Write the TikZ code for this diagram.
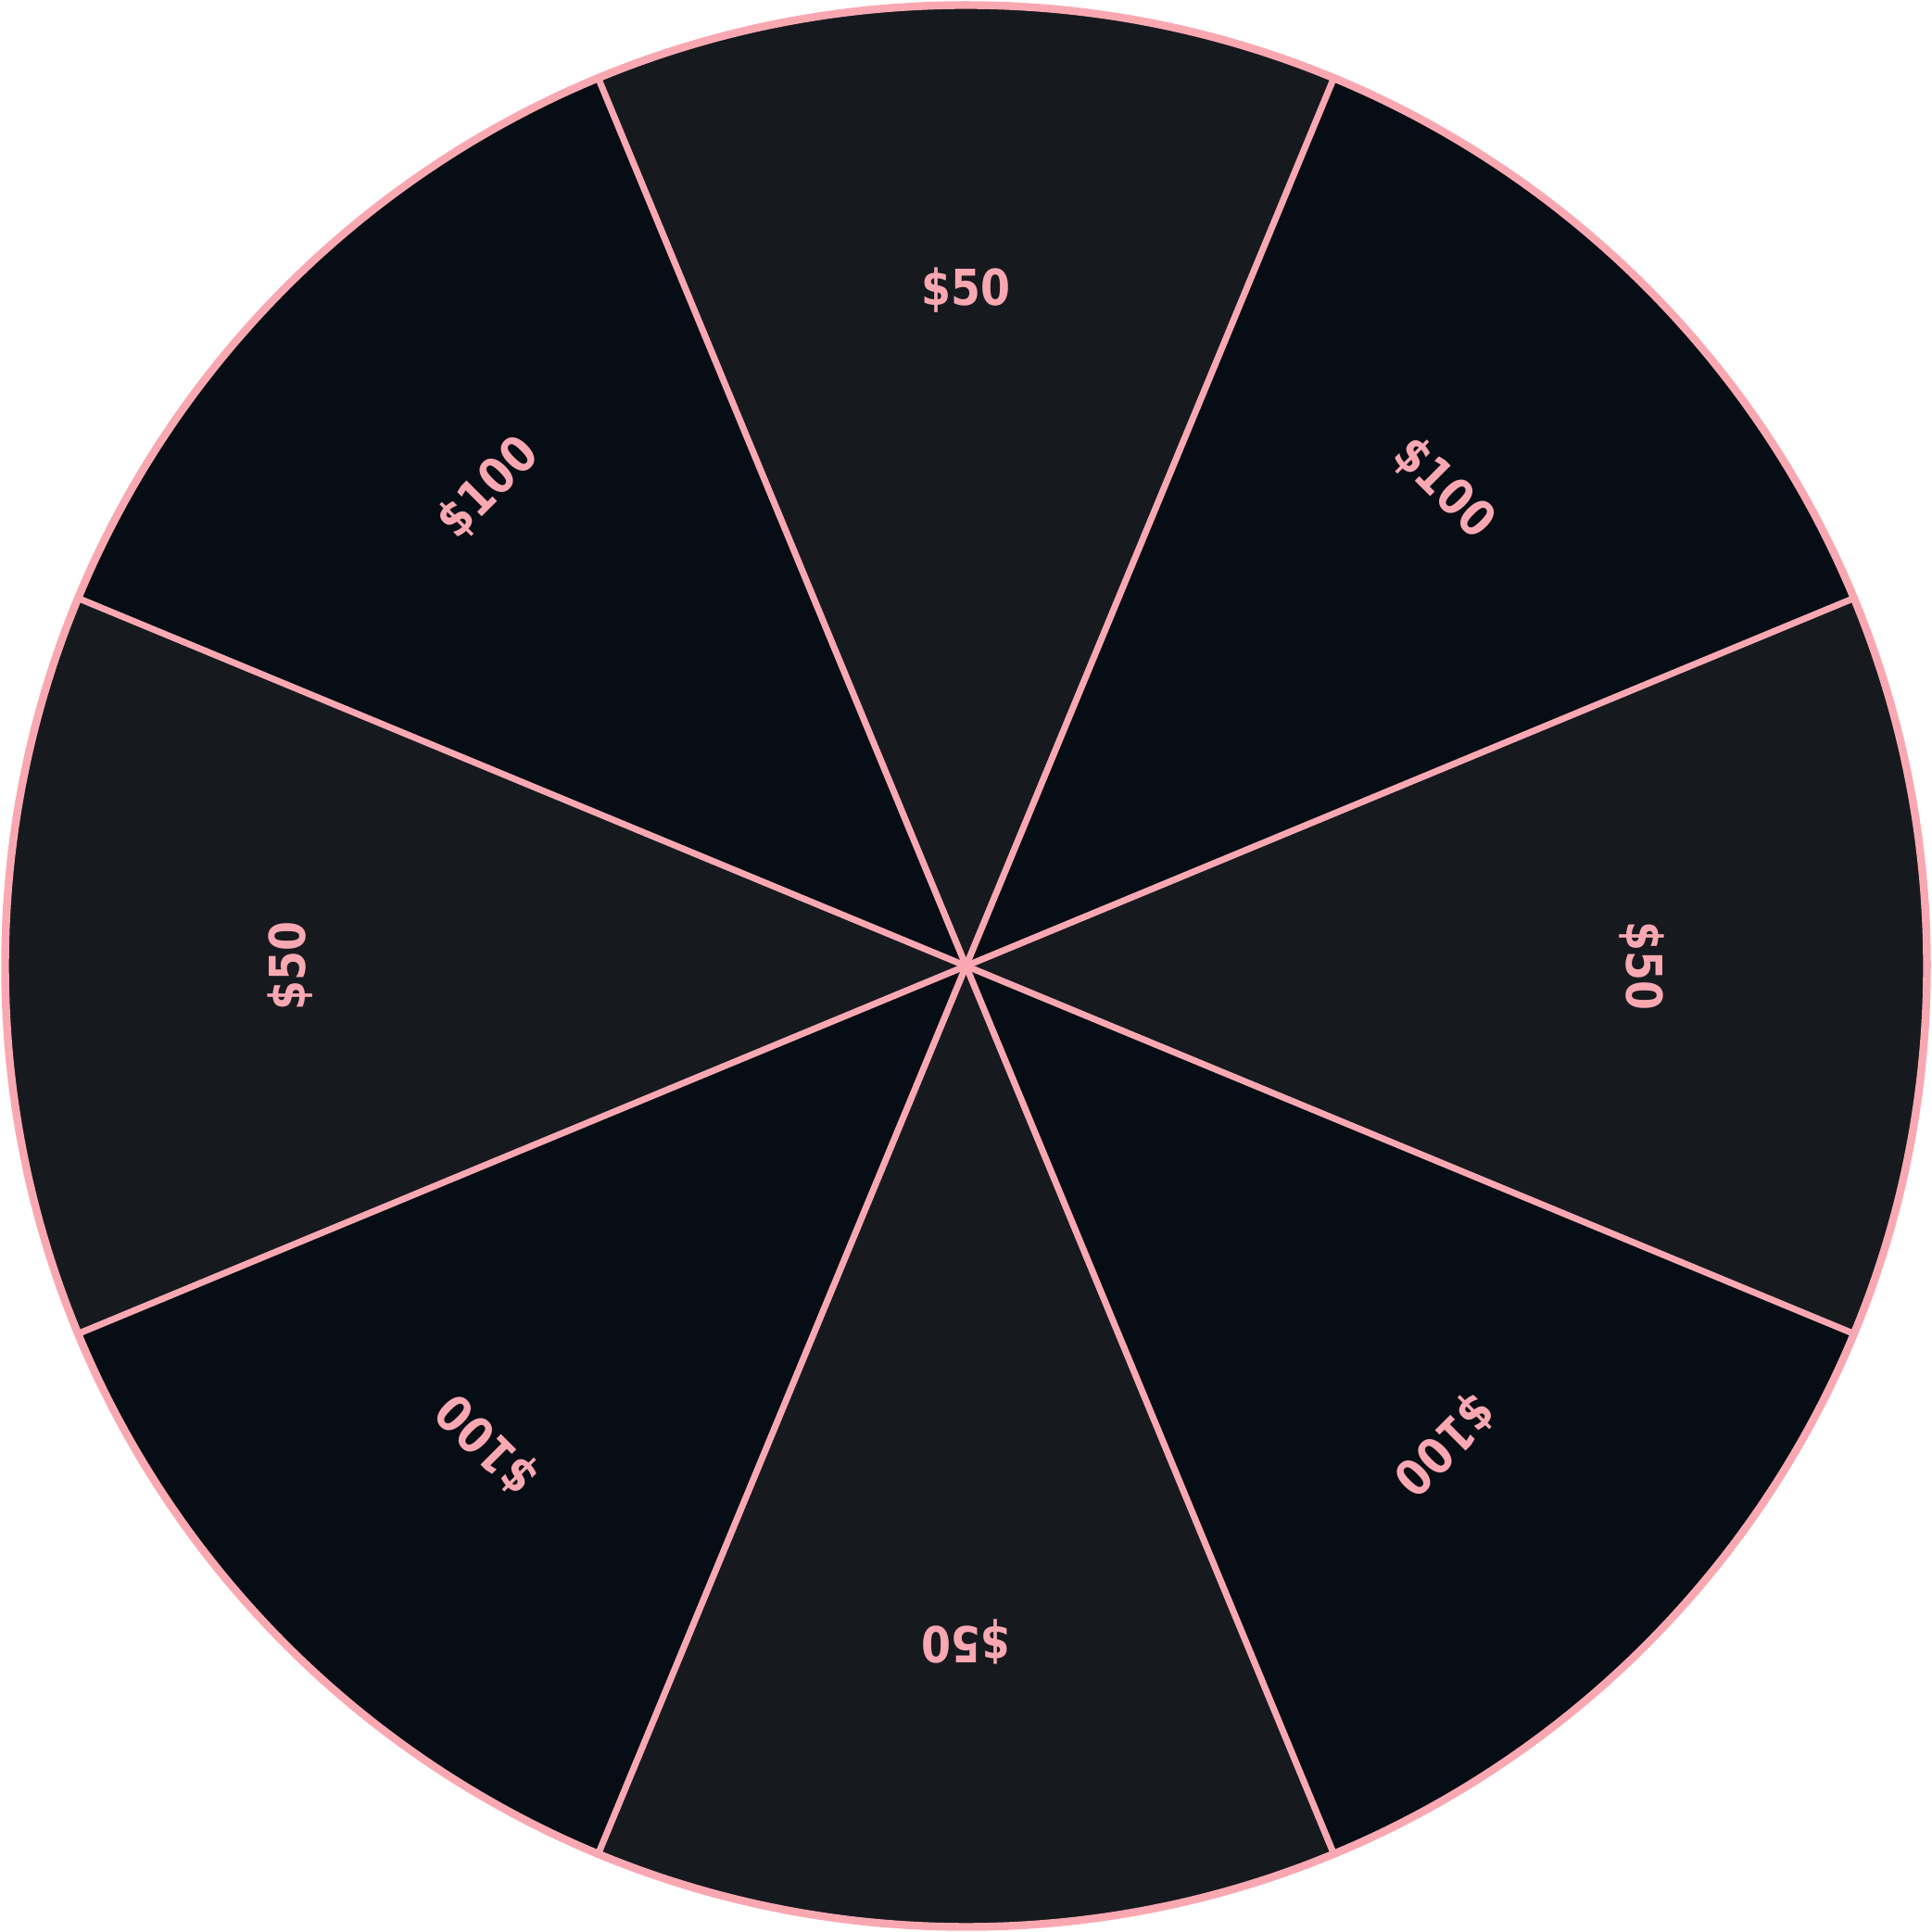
\documentclass[tikz,border=0pt]{standalone}
\usepackage{fontspec}
\setmainfont{DejaVu Sans}
\definecolor{pinkline}{HTML}{F9A8B2}
\definecolor{lightsec}{HTML}{161A1F}
\definecolor{darksec}{HTML}{070D14}
\newcommand{\prizetext}[1]{\scalebox{0.86}[1]{#1}}
\begin{document}
\begin{tikzpicture}[
  prize/.style={text=pinkline, font=\bfseries\fontsize{15.2}{16}\selectfont, inner sep=0pt},
  spoke/.style={draw=pinkline, line width=2pt},
  rim/.style={draw=pinkline, line width=2.4pt}]
\useasboundingbox (0,0) rectangle (20.85,20.85);
\fill[white] (0,0) rectangle (20.85,20.85);
\begin{scope}[shift={(10.425,10.425)}]
\coordinate (c) at (0,0);
\foreach \i in {0,...,7} {
  \pgfmathsetmacro\a{22.5+45*\i}
  \pgfmathsetmacro\b{67.5+45*\i}
  \pgfmathtruncatemacro\odd{mod(\i,2)}
  \ifnum\odd=0
    \fill[darksec] (0,0) -- (\a:10.37) arc[start angle=\a, end angle=\b, radius=10.37] -- cycle;
  \else
    \fill[lightsec] (0,0) -- (\a:10.37) arc[start angle=\a, end angle=\b, radius=10.37] -- cycle;
  \fi
  \coordinate (b\i) at (\a:10.37);
}
\foreach \i in {0,...,7} {
  \draw[spoke] (c) -- (b\i);
}
\draw[rim] (c) circle[radius=10.37];
\foreach \k in {0,2,4,6} {
  \node[prize, rotate=45*\k-90] (p\k) at (45*\k:7.29) {\prizetext{\$50}};
}
\foreach \k in {1,3,5,7} {
  \node[prize, rotate=45*\k-90] (p\k) at (45*\k:7.29) {\prizetext{\$100}};
}
\end{scope}
\end{tikzpicture}
\end{document}
